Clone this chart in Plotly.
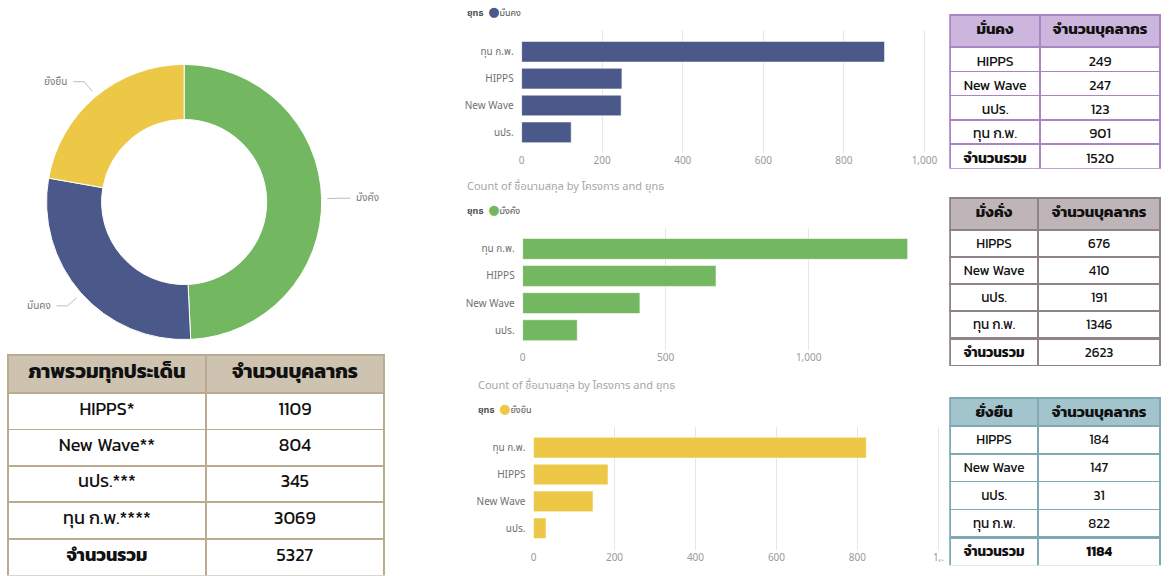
import math
import plotly.graph_objects as go

W, H = 1173, 576


def fx(px):
    return px / W


def fy(py):
    return 1 - py / H


# ---------------- data ----------------
strategies = ["มั่งคั่ง", "มั่นคง", "ยั่งยืน"]
strategy_colors = ["#73B761", "#4A588A", "#ECC846"]
projects = ["HIPPS", "New Wave", "นปร.", "ทุน ก.พ."]
mankhong = [249, 247, 123, 901]      # มั่นคง
mangkhang = [676, 410, 191, 1346]    # มั่งคั่ง
yangyuen = [184, 147, 31, 822]       # ยั่งยืน
overall_labels = ["HIPPS*", "New Wave**", "นปร.***", "ทุน ก.พ.****"]
overall_values = [1109, 804, 345, 3069]
bar_order = ["ทุน ก.พ.", "HIPPS", "New Wave", "นปร."]
total_label = "จำนวนรวม"
count_header = "จำนวนบุคลากร"
overall_header = "ภาพรวมทุกประเด็น"
chart_title = "Count of ชื่อนามสกุล by โครงการ and ยุทธ"
legend_title = "ยุทธ"

pie_values = [sum(mangkhang), sum(mankhong), sum(yangyuen)]

FONT = "Segoe UI, Noto Sans Thai, Noto Sans, DejaVu Sans, sans-serif"
TFONT = "Kanit, Noto Sans, sans-serif"

fig = go.Figure()

# ---------------- donut ----------------
cx, cy, R = 183, 202, 139
fig.add_trace(go.Pie(
    labels=strategies, values=pie_values, hole=0.6, sort=False,
    direction="clockwise", rotation=0, textinfo="none",
    marker=dict(colors=strategy_colors, line=dict(color="white", width=1)),
    domain=dict(x=[fx(cx - R), fx(cx + R)], y=[fy(cy + R), fy(cy - R)]),
    hoverinfo="label+value",
))

shapes = []
annotations = []
tot = sum(pie_values)
cum = 0
for name, v in zip(strategies, pie_values):
    mid = (cum + v / 2) / tot * 2 * math.pi
    cum += v
    sx, sy = math.sin(mid), -math.cos(mid)
    x1, y1 = cx + 1.04 * R * sx, cy + 1.04 * R * sy
    x2, y2 = cx + 1.13 * R * sx, cy + 1.13 * R * sy
    side = 1 if sx > 0 else -1
    x3 = x2 + side * 11
    shapes.append(dict(
        type="path", xref="paper", yref="paper",
        path=f"M {fx(x1)} {fy(y1)} L {fx(x2)} {fy(y2)} L {fx(x3)} {fy(y2)}",
        line=dict(color="#BDBDBD", width=1)))
    annotations.append(dict(
        x=fx(x3 + side * 4), y=fy(y2), xref="paper", yref="paper",
        text=name, showarrow=False, xanchor="left" if side > 0 else "right",
        yanchor="middle", font=dict(size=10, color="#777777", family=FONT)))

# ---------------- bar charts ----------------
bar_specs = [
    dict(vals=mankhong, color=strategy_colors[1], name=strategies[1],
         xdom=(524, 935), xr=[0, 1010], ydom=(30, 153), yr=[-0.77, 3.81],
         tv=[0, 200, 400, 600, 800, 1000], tt=["0", "200", "400", "600", "800", "1,000"],
         title=None, leg=(467, 12)),
    dict(vals=mangkhang, color=strategy_colors[0], name=strategies[0],
         xdom=(525, 940), xr=[0, 1436], ydom=(228, 350), yr=[-0.73, 3.77],
         tv=[0, 500, 1000], tt=["0", "500", "1,000"],
         title=(467, 186), leg=(467, 210)),
    dict(vals=yangyuen, color=strategy_colors[2], name=strategies[2],
         xdom=(536, 950), xr=[0, 1012], ydom=(427, 550), yr=[-0.81, 3.77],
         tv=[0, 200, 400, 600, 800, 1000], tt=["0", "200", "400", "600", "800", "1,."],
         title=(478, 385), leg=(478, 409)),
]

layout_axes = {}
for i, s in enumerate(bar_specs, start=1):
    val_map = dict(zip(projects, s["vals"]))
    ys = bar_order
    xs = [val_map[p] for p in ys]
    fig.add_trace(go.Bar(
        x=xs, y=ys, orientation="h", name=s["name"],
        marker=dict(color=s["color"], line=dict(color="rgba(255,255,255,0.55)", width=1)),
        width=0.77, xaxis=f"x{i}", yaxis=f"y{i}", hoverinfo="x+y",
    ))
    layout_axes[f"xaxis{i}"] = dict(
        domain=[fx(s["xdom"][0]), fx(s["xdom"][1])], range=s["xr"], anchor=f"y{i}",
        tickvals=s["tv"], ticktext=s["tt"], showgrid=True, gridcolor="#E6E6E6",
        gridwidth=1, zeroline=False, showline=False,
        tickfont=dict(size=10, color="#9A9A9A", family=FONT), fixedrange=True,
    )
    layout_axes[f"yaxis{i}"] = dict(
        domain=[fy(s["ydom"][1]), fy(s["ydom"][0])], range=s["yr"], anchor=f"x{i}",
        type="category", categoryorder="array", categoryarray=list(reversed(bar_order)),
        showgrid=False, zeroline=False, showline=False, ticklabelstandoff=7,
        tickfont=dict(size=10, color="#707070", family=FONT), fixedrange=True,
    )
    if s["title"]:
        annotations.append(dict(
            x=fx(s["title"][0]), y=fy(s["title"][1]), xref="paper", yref="paper",
            text=chart_title, showarrow=False, xanchor="left", yanchor="middle",
            font=dict(size=11, color="#A6A6A6", family=FONT)))
    annotations.append(dict(
        x=fx(s["leg"][0]), y=fy(s["leg"][1]), xref="paper", yref="paper",
        text=(f"<b>{legend_title}</b>  <span style='color:{s['color']};font-size:13px'>●</span>"
              f"{s['name']}"),
        showarrow=False, xanchor="left", yanchor="middle",
        font=dict(size=9, color="#505050", family=FONT)))


# ---------------- tables ----------------
def add_table(x0, x1, y0, y1, colw, head, col1, col2, hfill, lcolor,
              hh, rh, hsize, csize, bold_total_value=False):
    line = dict(color=lcolor, width=1.5)
    ysplit = y1 - rh
    # header + body rows
    fig.add_trace(go.Table(
        domain=dict(x=[fx(x0), fx(x1)], y=[fy(ysplit), fy(y0)]),
        columnwidth=colw,
        header=dict(values=list(head), fill_color=hfill, line=line, align="center",
                    height=hh,
                    font=dict(size=hsize, color="#111111", family=TFONT, weight="bold")),
        cells=dict(values=[list(col1[:-1]), [str(v) for v in col2[:-1]]],
                   fill_color="white", line=line, align="center", height=rh,
                   font=dict(size=csize, color="#111111", family=TFONT)),
    ))
    # total row (rendered as a one-row header so each column can have its own weight)
    fig.add_trace(go.Table(
        domain=dict(x=[fx(x0), fx(x1)], y=[fy(y1), fy(ysplit)]),
        columnwidth=colw,
        header=dict(values=[col1[-1], str(col2[-1])], fill_color="white", line=line,
                    align="center", height=rh,
                    font=dict(size=csize, color="#111111", family=TFONT,
                              weight=["bold", "bold" if bold_total_value else "normal"])),
        cells=dict(values=[[], []], line=line, height=rh),
    ))


add_table(5, 385, 355, 576, [200, 180], [overall_header, count_header],
          overall_labels + [total_label], overall_values + [sum(overall_values)],
          "#CDC3B0", "#B9AA90", 38, 36.4, 20, 18)
add_table(957, 1170, 15, 169, [91, 122], [strategies[1], count_header],
          projects + [total_label], mankhong + [sum(mankhong)],
          "#CDB6DE", "#A985C4", 32, 24.3, 15, 14)
add_table(957, 1170, 198, 366, [89, 124], [strategies[0], count_header],
          projects + [total_label], mangkhang + [sum(mangkhang)],
          "#BFB4B8", "#8E8387", 32, 27.0, 15, 13.5)
add_table(957, 1170, 398, 566, [89, 124], [strategies[2], count_header],
          projects + [total_label], yangyuen + [sum(yangyuen)],
          "#A2C5CD", "#80A9B3", 28, 27.8, 15, 13.5, bold_total_value=True)

fig.update_layout(
    width=W, height=H, margin=dict(l=0, r=0, t=0, b=0),
    paper_bgcolor="white", plot_bgcolor="white", showlegend=False,
    bargap=0.23, shapes=shapes, annotations=annotations,
    font=dict(family=FONT), **layout_axes,
)

fig.write_html("out.html")
